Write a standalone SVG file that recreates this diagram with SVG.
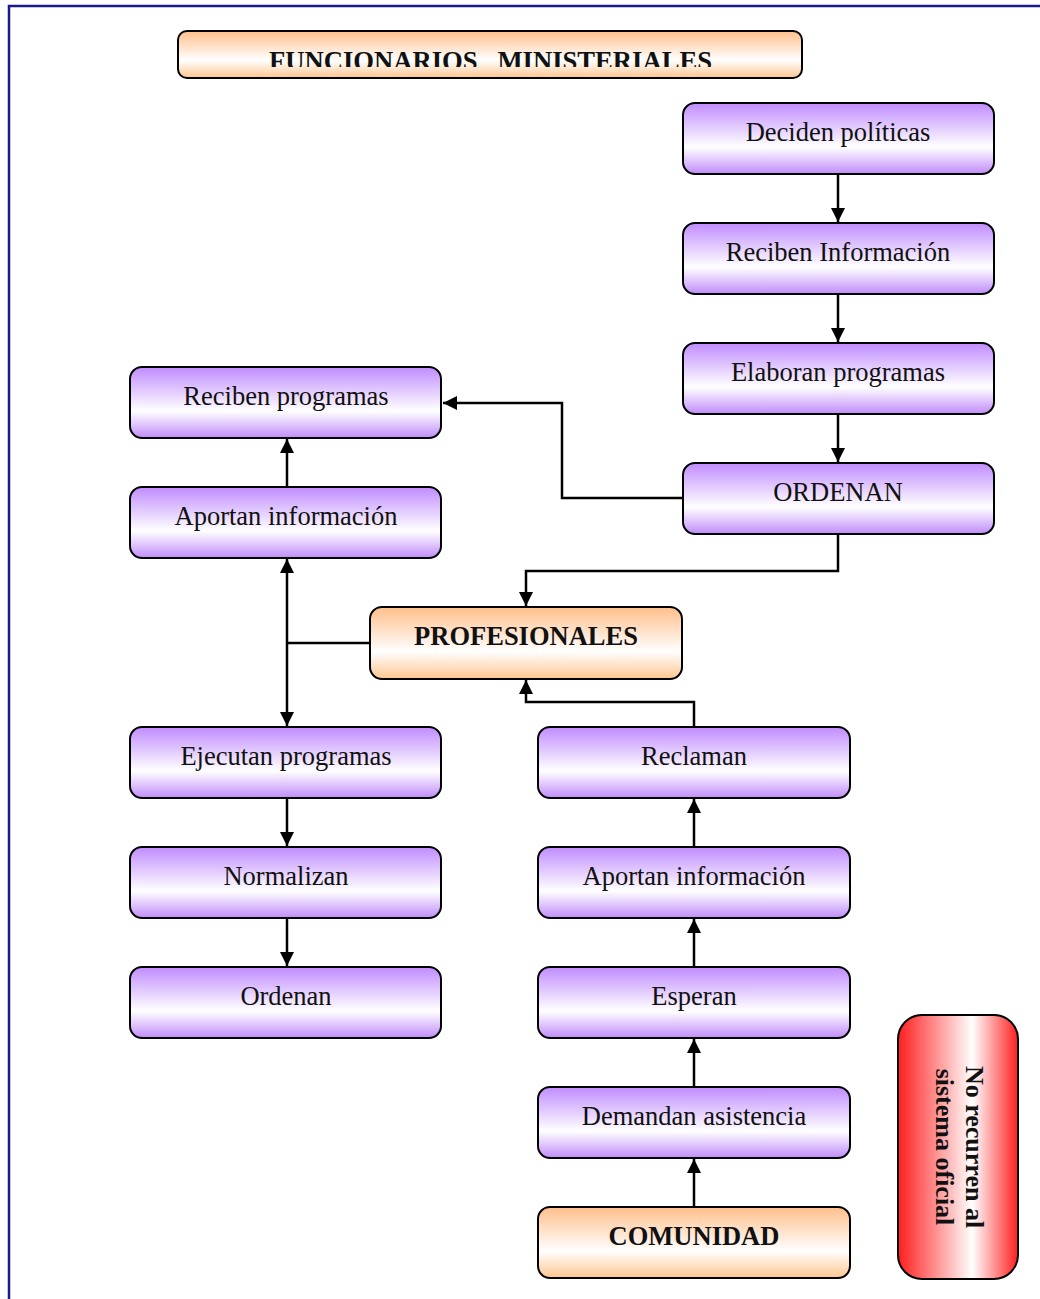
<svg xmlns="http://www.w3.org/2000/svg" width="1040" height="1299" viewBox="0 0 1040 1299">
<style>
.b{stroke:#000;stroke-width:2}
.p{fill:url(#gp)}
.o{fill:url(#go)}
.t{font-family:"Liberation Serif","Times New Roman",serif;font-size:26.5px;fill:#111;text-anchor:middle}
.tb{font-family:"Liberation Serif","Times New Roman",serif;font-size:26.5px;font-weight:bold;fill:#111;text-anchor:middle}
.c{fill:none;stroke:#000;stroke-width:2.5}
</style>
<defs>
<linearGradient id="gp" x1="0" y1="0" x2="0" y2="1">
<stop offset="0" stop-color="#c08cff"/>
<stop offset="0.62" stop-color="#ffffff"/>
<stop offset="1" stop-color="#c08cfa"/>
</linearGradient>
<linearGradient id="go" x1="0" y1="0" x2="0" y2="1">
<stop offset="0" stop-color="#ffbf8a"/>
<stop offset="0.62" stop-color="#ffffff"/>
<stop offset="1" stop-color="#ffc690"/>
</linearGradient>
<linearGradient id="gr" x1="0" y1="0" x2="1" y2="0">
<stop offset="0" stop-color="#ff1e1e"/>
<stop offset="0.62" stop-color="#ffffff"/>
<stop offset="1" stop-color="#ff1e1e"/>
</linearGradient>
<marker id="ah" markerWidth="14" markerHeight="14" refX="14" refY="7" orient="auto" markerUnits="userSpaceOnUse">
<path d="M0,0 L14,7 L0,14 Z" fill="#000"/>
</marker>
<clipPath id="tc"><rect x="178" y="31" width="624" height="36"/></clipPath>
</defs>
<rect width="1040" height="1299" fill="#fff"/>
<path d="M9,1299 V6 H1040" fill="none" stroke="#1a1a8c" stroke-width="2.5"/>

<g id="connectors">
<path class="c" d="M838,175 V222" marker-end="url(#ah)"/>
<path class="c" d="M838,295 V342" marker-end="url(#ah)"/>
<path class="c" d="M838,415 V462" marker-end="url(#ah)"/>
<path class="c" d="M683,498 H562 V403 H443" marker-end="url(#ah)"/>
<path class="c" d="M838,535 V571 H526 V606" marker-end="url(#ah)"/>
<path class="c" d="M370,643 H287"/>
<path class="c" d="M287,643 V559" marker-end="url(#ah)"/>
<path class="c" d="M287,643 V726" marker-end="url(#ah)"/>
<path class="c" d="M287,487 V439" marker-end="url(#ah)"/>
<path class="c" d="M287,799 V846" marker-end="url(#ah)"/>
<path class="c" d="M287,919 V966" marker-end="url(#ah)"/>
<path class="c" d="M694,727 V702 H526 V680" marker-end="url(#ah)"/>
<path class="c" d="M694,847 V799" marker-end="url(#ah)"/>
<path class="c" d="M694,967 V919" marker-end="url(#ah)"/>
<path class="c" d="M694,1087 V1039" marker-end="url(#ah)"/>
<path class="c" d="M694,1207 V1159" marker-end="url(#ah)"/>
</g>

<g id="n-funcionarios"><rect class="b o" x="178" y="31" width="624" height="47" rx="9"/><text class="tb" clip-path="url(#tc)" x="269" y="70" textLength="443" lengthAdjust="spacingAndGlyphs" style="font-size:27px;text-anchor:start" xml:space="preserve">FUNCIONARIOS   MINISTERIALES</text></g>
<g id="n-deciden"><rect class="b p" x="683" y="103" width="311" height="71" rx="12"/><text class="t" x="838" y="141">Deciden políticas</text></g>
<g id="n-reciben-info"><rect class="b p" x="683" y="223" width="311" height="71" rx="12"/><text class="t" x="838" y="261">Reciben Información</text></g>
<g id="n-elaboran"><rect class="b p" x="683" y="343" width="311" height="71" rx="12"/><text class="t" x="838" y="381">Elaboran programas</text></g>
<g id="n-ordenan-top"><rect class="b p" x="683" y="463" width="311" height="71" rx="12"/><text class="t" x="838" y="501">ORDENAN</text></g>
<g id="n-reciben-prog"><rect class="b p" x="130" y="367" width="311" height="71" rx="12"/><text class="t" x="286" y="405">Reciben programas</text></g>
<g id="n-aportan-left"><rect class="b p" x="130" y="487" width="311" height="71" rx="12"/><text class="t" x="286" y="525">Aportan información</text></g>
<g id="n-profesionales"><rect class="b o" x="370" y="607" width="312" height="72" rx="12"/><text class="tb" x="526" y="645">PROFESIONALES</text></g>
<g id="n-ejecutan"><rect class="b p" x="130" y="727" width="311" height="71" rx="12"/><text class="t" x="286" y="765">Ejecutan programas</text></g>
<g id="n-normalizan"><rect class="b p" x="130" y="847" width="311" height="71" rx="12"/><text class="t" x="286" y="885">Normalizan</text></g>
<g id="n-ordenan-left"><rect class="b p" x="130" y="967" width="311" height="71" rx="12"/><text class="t" x="286" y="1005">Ordenan</text></g>
<g id="n-reclaman"><rect class="b p" x="538" y="727" width="312" height="71" rx="12"/><text class="t" x="694" y="765">Reclaman</text></g>
<g id="n-aportan-right"><rect class="b p" x="538" y="847" width="312" height="71" rx="12"/><text class="t" x="694" y="885">Aportan información</text></g>
<g id="n-esperan"><rect class="b p" x="538" y="967" width="312" height="71" rx="12"/><text class="t" x="694" y="1005">Esperan</text></g>
<g id="n-demandan"><rect class="b p" x="538" y="1087" width="312" height="71" rx="12"/><text class="t" x="694" y="1125">Demandan asistencia</text></g>
<g id="n-comunidad"><rect class="b o" x="538" y="1207" width="312" height="71" rx="12"/><text class="tb" x="694" y="1245">COMUNIDAD</text></g>
<g id="n-no-recurren"><rect class="b" fill="url(#gr)" x="898" y="1015" width="120" height="264" rx="24"/>
<text class="tb" style="font-size:26px" transform="translate(958,1147) rotate(90)"><tspan x="0" y="-8">No recurren al</tspan><tspan x="0" y="22">sistema oficial</tspan></text></g>
</svg>
